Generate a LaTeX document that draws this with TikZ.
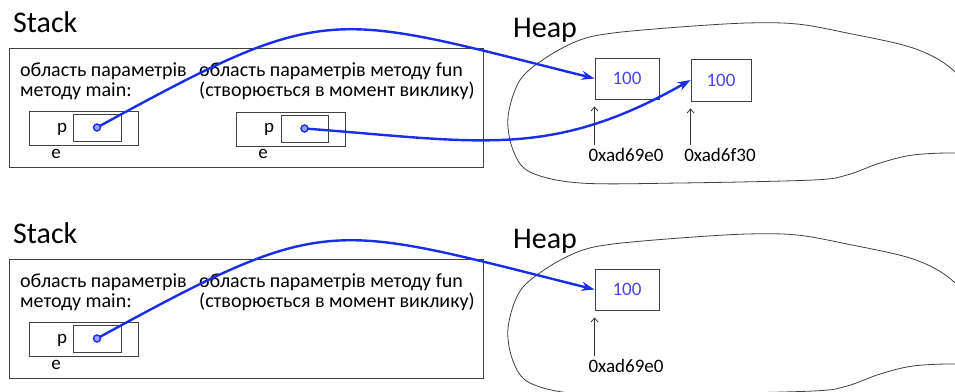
\documentclass[tikz,border=0pt]{standalone}
\usepackage{fontspec}
\setmainfont{Carlito}
\usetikzlibrary{arrows.meta}

\definecolor{refblue}{RGB}{25,45,235}
\definecolor{valblue}{RGB}{70,70,240}

\begin{document}
\begin{tikzpicture}[x=1pt,y=-1pt,
		every node/.style={font=\fontsize{19}{20}\selectfont},
		title/.style={font=\fontsize{30}{31}\selectfont,anchor=base west,inner sep=0},
		note/.style={font=\fontsize{20}{20}\selectfont,anchor=north west,align=left,inner sep=0},
		cell/.style={draw=black!75,line width=0.9pt,inner sep=0},
		ref/.style={draw=refblue,line width=2.4pt,-{Stealth[length=13pt,width=9pt]}},
		addr/.style={draw=black!80,line width=0.8pt,-{Straight Barb[length=4pt,width=7pt]}},
		dot/.style={circle,draw=refblue,fill=refblue!45,line width=1.4pt,inner sep=0,minimum size=7pt}]

	\path[use as bounding box] (0,0) rectangle (955,391);
	\clip (0,0) rectangle (955,391);

	% parts shared by both states
	\foreach \dy in {0,211} {
		\begin{scope}[shift={(0,\dy)}]
			\node[title] (stack) at (13,32) {Stack};
			\node[title] (heap) at (513,37) {Heap};
			\node[cell,line width=1pt,anchor=north west,minimum width=474pt,minimum height=119pt] (frame) at (9,48) {};

			\draw[black!75,line width=0.8pt] plot[smooth,tension=0.55] coordinates {
				(990,115) (953,70) (913,48) (847,33) (797,24) (747,23) (680,27) (613,33)
				(580,40) (547,57) (520,80) (508,117) (513,150) (530,172) (580,183)
				(680,183) (813,180) (847,175) (880,163) (913,155) (955,153) (990,156)};

			\node[note] (mtext) at (20,63) {область параметрів\\методу main:};
			\node[note] (ftext) at (199,63) {область параметрів методу fun\\(створюється в момент виклику)};

			\node[cell,anchor=north west,minimum width=109pt,minimum height=34pt] (mframe) at (29,111) {};
			\node[cell,minimum width=48pt,minimum height=27pt] (mcell) at (97,127.5) {};
			\node[anchor=base,inner sep=0] (mp) at (62,132) {p};
			\node[anchor=base,inner sep=0] (me) at (56,158) {e};
			\coordinate (mptr) at (mcell.center);

			\node[cell,minimum width=64pt,minimum height=41pt,text=valblue] (h1) at (627,78.5) {100};
			\node (a1) at (626,155) {0xad69e0};
			\draw[addr] (a1.north -| h1.west) -- ([yshift=-7pt]h1.south west);

			\draw[ref] (mptr) .. controls +(232,-127) and +(-268,-67) .. (h1.west);
			\node[dot] at (mptr) {};
		\end{scope}
	}

	% frame of fun, only while it runs
	\node[cell,anchor=north west,minimum width=109pt,minimum height=34pt] (fframe) at (236,112) {};
	\node[cell,minimum width=47pt,minimum height=27pt] (fcell) at (304.5,128.5) {};
	\node[anchor=base,inner sep=0] (fp) at (269,132) {p};
	\node[anchor=base,inner sep=0] (fe) at (263,158) {e};
	\coordinate (fptr) at (fcell.center);

	\node[cell,minimum width=60pt,minimum height=42pt,text=valblue] (h2) at (721,80) {100};
	\node (a2) at (720,155) {0xad6f30};
	\draw[addr] (a2.north -| h2.west) -- ([yshift=-7pt]h2.south west);

	\draw[ref] (fptr) .. controls +(174,13) and +(-141,80) .. (h2.west);
	\node[dot] at (fptr) {};
\end{tikzpicture}
\end{document}
